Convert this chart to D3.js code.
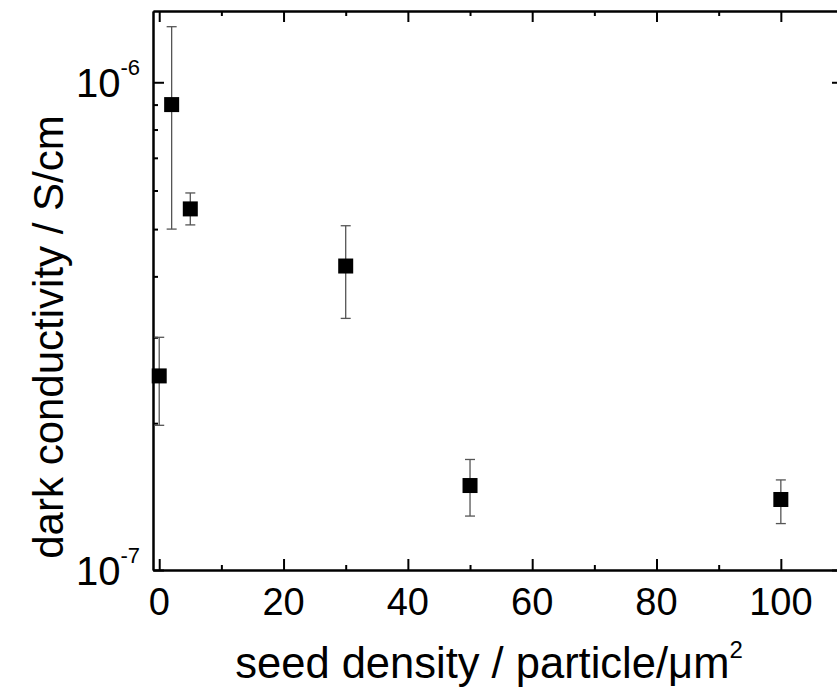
<!DOCTYPE html>
<html>
<head>
<meta charset="utf-8">
<script src="https://cdn.jsdelivr.net/npm/d3@7"></script>
<style>
  body { margin: 0; background: #fff; }
  svg { display: block; font-family: "Liberation Sans", Arial, sans-serif; }
  .axis path { stroke: #000; stroke-width: 2; }
  .axis line { stroke: #000; stroke-width: 2; }
</style>
</head>
<body>
<svg width="837" height="694"></svg>
<script>
// data
var seedDensity = [0, 2, 5, 30, 50, 100];                 // particle/um^2
var conductivity = [2.5e-7, 9.0e-7, 5.5e-7, 4.2e-7, 1.49e-7, 1.395e-7];   // S/cm
var errUpper = [3.0e-7, 1.30e-6, 5.93e-7, 5.08e-7, 1.685e-7, 1.53e-7];
var errLower = [1.98e-7, 5.0e-7, 5.1e-7, 3.28e-7, 1.29e-7, 1.245e-7];

var xMajor = [0, 20, 40, 60, 80, 100];
var xMinor = [10, 30, 50, 70, 90];
var yMajor = [1e-7, 1e-6];
var yMinor = [2e-7, 3e-7, 4e-7, 5e-7, 6e-7, 7e-7, 8e-7, 9e-7];

var svg = d3.select("svg"),
    plotLeft = 153, plotRight = 843, plotTop = 11, plotBottom = 570;

var x = d3.scaleLinear().domain([-1, 110]).range([plotLeft, plotRight]);
var y = d3.scaleLog().domain([1e-7, 1.4e-6]).range([plotBottom, plotTop]);

var points = seedDensity.map(function(d, i) {
    return {x: d, y: conductivity[i], hi: errUpper[i], lo: errLower[i]};
});

// axes: ticks pointing inward, mirrored on top and right
function addAxis(gen, transform) {
    svg.append("g")
        .attr("class", "axis")
        .attr("transform", transform)
        .call(gen);
}
addAxis(d3.axisBottom(x).tickValues(xMajor).tickSize(-11).tickSizeOuter(0).tickFormat(""), "translate(0," + plotBottom + ")");
addAxis(d3.axisBottom(x).tickValues(xMinor).tickSize(-5).tickSizeOuter(0).tickFormat(""), "translate(0," + plotBottom + ")");
addAxis(d3.axisTop(x).tickValues(xMajor).tickSize(-11).tickSizeOuter(0).tickFormat(""), "translate(0," + plotTop + ")");
addAxis(d3.axisTop(x).tickValues(xMinor).tickSize(-5).tickSizeOuter(0).tickFormat(""), "translate(0," + plotTop + ")");
addAxis(d3.axisLeft(y).tickValues(yMajor).tickSize(-11).tickSizeOuter(0).tickFormat(""), "translate(" + plotLeft + ",0)");
addAxis(d3.axisLeft(y).tickValues(yMinor).tickSize(-5).tickSizeOuter(0).tickFormat(""), "translate(" + plotLeft + ",0)");
addAxis(d3.axisRight(y).tickValues(yMajor).tickSize(-11).tickSizeOuter(0).tickFormat(""), "translate(" + plotRight + ",0)");
addAxis(d3.axisRight(y).tickValues(yMinor).tickSize(-5).tickSizeOuter(0).tickFormat(""), "translate(" + plotRight + ",0)");

// x tick labels
svg.selectAll(".xlab")
    .data(xMajor)
  .enter().append("text")
    .attr("class", "xlab")
    .attr("x", function(d) { return x(d); })
    .attr("y", plotBottom + 45)
    .attr("text-anchor", "middle")
    .attr("font-size", 38)
    .text(function(d) { return d; });

// y tick labels as 10^n
var ylab = svg.selectAll(".ylab")
    .data(yMajor)
  .enter().append("text")
    .attr("class", "ylab")
    .attr("x", plotLeft - 13)
    .attr("y", function(d) { return y(d) + 15; })
    .attr("text-anchor", "end")
    .attr("font-size", 40);
ylab.append("tspan").text("10");
ylab.append("tspan")
    .attr("dy", -22)
    .attr("font-size", 22)
    .text(function(d) { return "-" + Math.round(-Math.log10(d)); });

// axis titles
svg.append("text")
    .attr("x", 489)
    .attr("y", 678)
    .attr("text-anchor", "middle")
    .attr("font-size", 43.5)
    .text("seed density / particle/\u03bcm")
  .append("tspan")
    .attr("dy", -20)
    .attr("font-size", 24)
    .text("2");

svg.append("text")
    .attr("transform", "translate(63,337) rotate(-90)")
    .attr("text-anchor", "middle")
    .attr("font-size", 42)
    .text("dark conductivity / S/cm");

// error bars
var err = svg.append("g")
    .attr("stroke", "#555")
    .attr("stroke-width", 1.3);
err.selectAll(".stem")
    .data(points)
  .enter().append("line")
    .attr("x1", function(d) { return x(d.x); })
    .attr("x2", function(d) { return x(d.x); })
    .attr("y1", function(d) { return y(d.hi); })
    .attr("y2", function(d) { return y(d.lo); });
["hi", "lo"].forEach(function(k) {
    err.selectAll(".cap-" + k)
        .data(points)
      .enter().append("line")
        .attr("x1", function(d) { return x(d.x) - 5; })
        .attr("x2", function(d) { return x(d.x) + 5; })
        .attr("y1", function(d) { return y(d[k]); })
        .attr("y2", function(d) { return y(d[k]); });
});

// square markers
svg.selectAll(".dot")
    .data(points)
  .enter().append("rect")
    .attr("class", "dot")
    .attr("x", function(d) { return x(d.x) - 7.5; })
    .attr("y", function(d) { return y(d.y) - 7.5; })
    .attr("width", 15)
    .attr("height", 15)
    .attr("fill", "#000");
</script>
</body>
</html>
